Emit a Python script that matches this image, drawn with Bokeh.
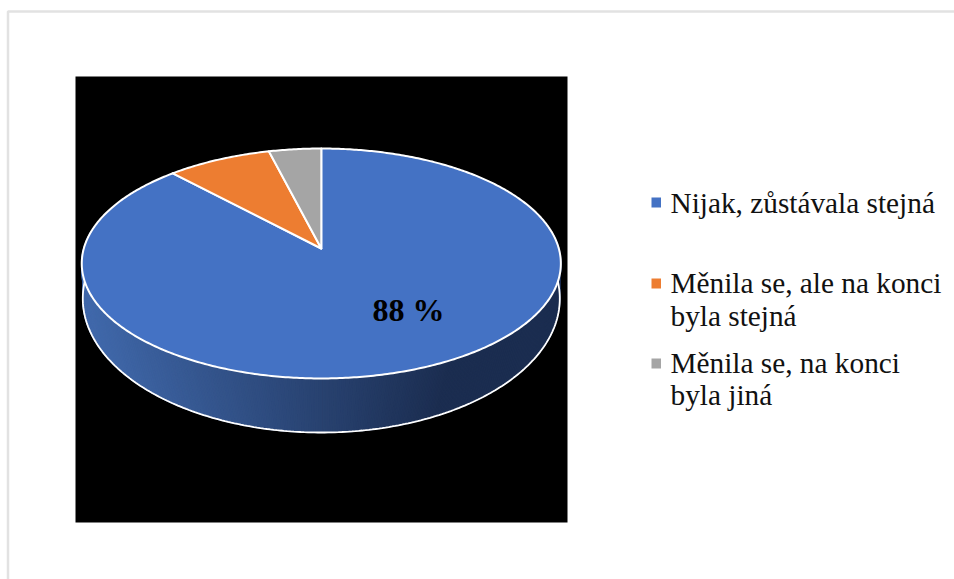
import numpy as np
from bokeh.plotting import figure
from bokeh.models import Range1d
from bokeh.embed import file_html
from bokeh.resources import INLINE
from bokeh.core.properties import value

# data
categories = ["Nijak, zůstávala stejná", "Měnila se, ale na konci byla stejná", "Měnila se, na konci byla jiná"]
values = [88, 8, 4]
colors = ["#4472C4", "#ED7D31", "#A5A5A5"]
legend_lines = [["Nijak, zůstávala stejná"], ["Měnila se, ale na konci", "byla stejná"], ["Měnila se, na konci", "byla jiná"]]
data_label = "88 %"

W, H = 954, 579
p = figure(width=W, height=H, output_backend="svg", toolbar_location=None,
           x_range=Range1d(0, W), y_range=Range1d(H, 0),
           min_border=0, outline_line_color=None, background_fill_color="white")
p.axis.visible = False
p.grid.visible = False

# frame lines
p.line([7.5, 7.5, 954], [579, 11, 11], line_color="#e2e2e2", line_width=2.5)
# black plot area
p.quad(left=[75], right=[567], top=[76], bottom=[522], fill_color="black", line_color=None)

# perspective projection of the pie disc
CX, CY, A, B, Q = 320.8, 248.0, 237.5, 113.0, 0.1304
WALL_CY, WALL_A, WALL_B = 298.0, 238.5, 134.0

def proj(theta, r=1.0):
    u, v = r * np.sin(theta), -r * np.cos(theta)
    den = 1 - Q * v
    return CX + A * u / den, CY + B * v / den

fracs = np.cumsum([0] + values) / sum(values) * 2 * np.pi

# side wall, drawn as narrow strips for the gradient
def side_color(x):
    t = np.clip((x - 85) / (450 - 85), 0, 1)
    c0, c1 = np.array([64, 104, 170]), np.array([27, 45, 80])
    return "#%02x%02x%02x" % tuple(int(round(k)) for k in c0 + (c1 - c0) * t)

th = np.linspace(np.pi / 2 - 0.15, 3 * np.pi / 2 + 0.15, 241)
xt, yt = proj(th)
xb, yb = CX + WALL_A * np.sin(th), WALL_CY - WALL_B * np.cos(th)
xs, ys, cs = [], [], []
for i in range(len(th) - 1):
    xs.append([xt[i], xt[i + 1], xb[i + 1], xb[i]])
    ys.append([yt[i], yt[i + 1], yb[i + 1], yb[i]])
    cs.append(side_color((xt[i] + xt[i + 1]) / 2))
p.patches(xs, ys, fill_color=cs, line_color=cs, line_width=1.5)
p.line(list(xb), list(yb), line_color="white", line_width=1.8)
p.line([xt[0], xb[0]], [yt[0], yb[0]], line_color="white", line_width=1.8)
p.line([xt[-1], xb[-1]], [yt[-1], yb[-1]], line_color="white", line_width=1.8)

# top face slices
for i, c in enumerate(colors):
    t = np.linspace(fracs[i], fracs[i + 1], max(8, int(values[i] * 6)))
    x, y = proj(t)
    cx0, cy0 = proj(0.0, r=0.0)
    p.patch([cx0] + list(x), [cy0] + list(y), fill_color=c, line_color="white",
            line_width=2.0, line_join="round")

# data label
p.text([408], [309], text=[data_label], text_font=value("Liberation Serif"),
       text_font_style="bold", text_font_size="32px", text_color="black",
       text_align="center", text_baseline="alphabetic")

# legend
marker_y = [202, 283, 363]
baselines = [[202], [282, 315], [362, 394]]
for c, my, lines, bl in zip(colors, marker_y, legend_lines, baselines):
    p.quad(left=[651], right=[660.5], top=[my - 5], bottom=[my + 5], fill_color=c, line_color=None)
    p.text([670] * len(lines), bl, text=lines, text_font=value("Liberation Serif"),
           text_font_size="29.3px", text_color="#111111", text_align="left",
           text_baseline="alphabetic")

open("out.html", "w").write(file_html(p, INLINE))
